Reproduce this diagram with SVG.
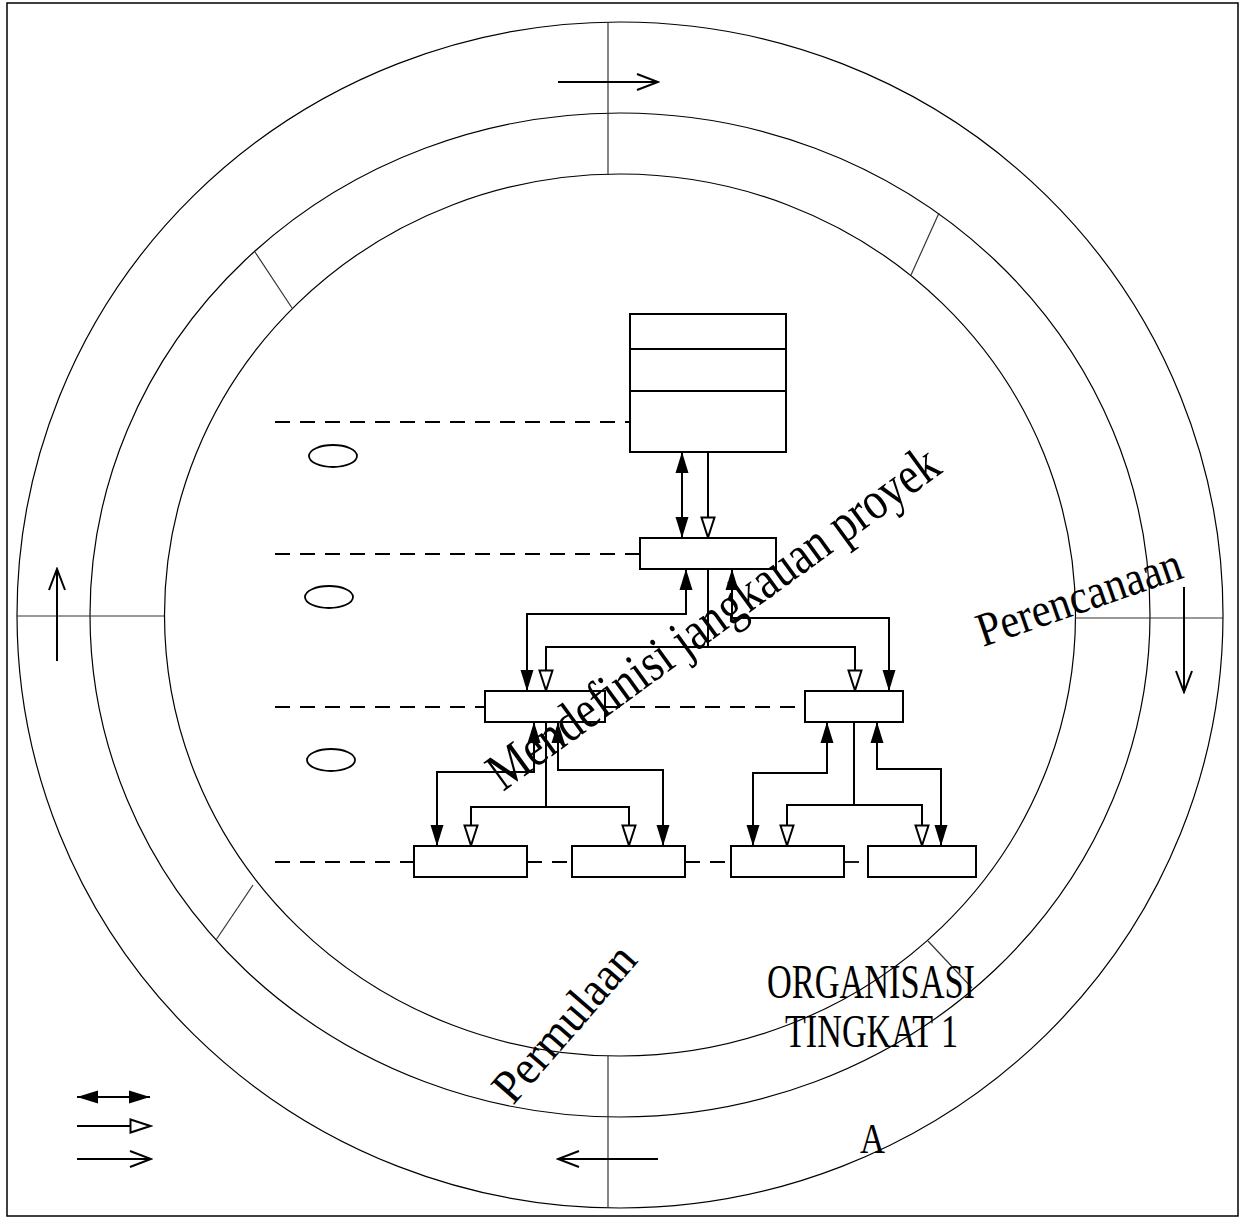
<svg xmlns="http://www.w3.org/2000/svg" width="1242" height="1218" viewBox="0 0 1242 1218">
<style>
.ring{fill:none;stroke:#000;stroke-width:1.2}
.div{fill:none;stroke:#333;stroke-width:1.2}
.box{fill:#fff;stroke:#000;stroke-width:2}
.dash{fill:none;stroke:#000;stroke-width:1.8;stroke-dasharray:15 10}
.con{fill:none;stroke:#000;stroke-width:2}
.dbl{marker-start:url(#fillA);marker-end:url(#fillA)}
.hol{marker-end:url(#holA)}
.opn{marker-end:url(#openA)}
.oval{fill:#fff;stroke:#000;stroke-width:1.8}
.t{font-family:"Liberation Serif","Times New Roman",serif;fill:#000}
</style>
<defs>
<marker id="fillA" markerUnits="userSpaceOnUse" markerWidth="22" markerHeight="14" refX="21" refY="7" orient="auto-start-reverse" viewBox="0 0 22 14">
<path d="M0,0.5 L21,7 L0,13.5 z" fill="#000"/>
</marker>
<marker id="holA" markerUnits="userSpaceOnUse" markerWidth="24" markerHeight="16" refX="22" refY="8" orient="auto" viewBox="0 0 24 16">
<path d="M1.5,1.5 L21.5,8 L1.5,14.5 z" fill="#fff" stroke="#000" stroke-width="2"/>
</marker>
<marker id="openA" markerUnits="userSpaceOnUse" markerWidth="24" markerHeight="20" refX="22" refY="10" orient="auto" viewBox="0 0 24 20">
<path d="M1,2 L22,10 L1,18" fill="none" stroke="#000" stroke-width="2"/>
</marker>
</defs>
<rect x="0" y="0" width="1242" height="1218" fill="#fff"/>
<rect x="7" y="3" width="1231" height="1213" fill="none" stroke="#000" stroke-width="1.5"/>

<g id="rings">
<ellipse class="ring" cx="620" cy="615" rx="603" ry="593"/>
<ellipse class="ring" cx="620" cy="615" rx="530" ry="502"/>
<ellipse class="ring" cx="620" cy="615" rx="455.5" ry="441"/>
<line class="div" x1="608" y1="22" x2="608" y2="174"/>
<line class="div" x1="608" y1="1056" x2="608" y2="1208"/>
<line class="div" x1="17" y1="616" x2="164" y2="616"/>
<line class="div" x1="1075" y1="618" x2="1223" y2="618"/>
<line class="div" x1="255" y1="252" x2="292" y2="308"/>
<line class="div" x1="939" y1="213" x2="911" y2="275"/>
<line class="div" x1="253" y1="885" x2="216" y2="940"/>
<line class="div" x1="928" y1="941" x2="972" y2="988"/>
</g>

<g id="cycle-arrows">
<line class="con opn" x1="558" y1="82" x2="658" y2="82"/>
<line class="con opn" x1="1184" y1="587" x2="1184" y2="692"/>
<line class="con opn" x1="658" y1="1159" x2="558" y2="1159"/>
<line class="con opn" x1="57" y1="661" x2="57" y2="569"/>
</g>

<g id="levels">
<ellipse class="oval" cx="333" cy="456" rx="24" ry="11"/>
<ellipse class="oval" cx="329" cy="597" rx="24" ry="11"/>
<ellipse class="oval" cx="331" cy="760" rx="24" ry="11"/>
<line class="dash" x1="275" y1="422" x2="630" y2="422"/>
<line class="dash" x1="275" y1="554" x2="640" y2="554"/>
<line class="dash" x1="275" y1="707" x2="485" y2="707"/>
<line class="dash" x1="605" y1="707" x2="805" y2="707"/>
<line class="dash" x1="275" y1="862" x2="414" y2="862"/>
<line class="dash" x1="527" y1="862" x2="572" y2="862"/>
<line class="dash" x1="685" y1="862" x2="731" y2="862"/>
<line class="dash" x1="844" y1="862" x2="868" y2="862"/>
</g>

<g id="connectors">
<path class="con dbl" d="M682,452 V538"/>
<path class="con hol" d="M708,452 V538"/>
<path class="con dbl" d="M686,569 V614 H527 V691"/>
<path class="con hol" d="M708,569 V647 H546 V691"/>
<path class="con hol" d="M708,647 H855 V691"/>
<path class="con dbl" d="M732,569 V618 H889 V691"/>
<path class="con dbl" d="M534,722 V772 H437 V846"/>
<path class="con hol" d="M546,722 V807 H471 V846"/>
<path class="con hol" d="M546,807 H629 V846"/>
<path class="con dbl" d="M558,722 V770 H663 V846"/>
<path class="con dbl" d="M827,722 V773 H753 V846"/>
<path class="con hol" d="M854,722 V805 H787 V846"/>
<path class="con hol" d="M854,805 H922 V846"/>
<path class="con dbl" d="M877,722 V769 H941 V846"/>
</g>

<g id="node-top">
<rect class="box" x="630" y="314" width="156" height="138"/>
<line class="con" x1="630" y1="349" x2="786" y2="349"/>
<line class="con" x1="630" y1="391" x2="786" y2="391"/>
</g>
<g id="node-2"><rect class="box" x="640" y="538" width="136" height="31"/></g>
<g id="node-3a"><rect class="box" x="485" y="691" width="120" height="31"/></g>
<g id="node-3b"><rect class="box" x="805" y="691" width="98" height="31"/></g>
<g id="node-4a"><rect class="box" x="414" y="846" width="113" height="31"/></g>
<g id="node-4b"><rect class="box" x="572" y="846" width="113" height="31"/></g>
<g id="node-4c"><rect class="box" x="731" y="846" width="113" height="31"/></g>
<g id="node-4d"><rect class="box" x="868" y="846" width="108" height="31"/></g>

<g id="legend">
<line class="con dbl" x1="77" y1="1097" x2="150" y2="1097"/>
<line class="con hol" x1="77" y1="1126" x2="151" y2="1126"/>
<line class="con opn" x1="77" y1="1159" x2="151" y2="1159"/>
</g>

<g id="labels">
<text class="t" font-size="54" textLength="545" lengthAdjust="spacingAndGlyphs" transform="translate(503,792) rotate(-36)">Mendefinisi jangkauan proyek</text>
<text class="t" font-size="48" textLength="214" lengthAdjust="spacingAndGlyphs" transform="translate(983,647) rotate(-19)">Perencanaan</text>
<text class="t" font-size="48" textLength="192" lengthAdjust="spacingAndGlyphs" transform="translate(513,1106) rotate(-49)">Permulaan</text>
<text class="t" font-size="48" x="767" y="998" textLength="208" lengthAdjust="spacingAndGlyphs">ORGANISASI</text>
<text class="t" font-size="46" x="785" y="1047" textLength="173" lengthAdjust="spacingAndGlyphs">TINGKAT 1</text>
<text class="t" font-size="42" x="860" y="1153" textLength="25" lengthAdjust="spacingAndGlyphs">A</text>
</g>
</svg>
